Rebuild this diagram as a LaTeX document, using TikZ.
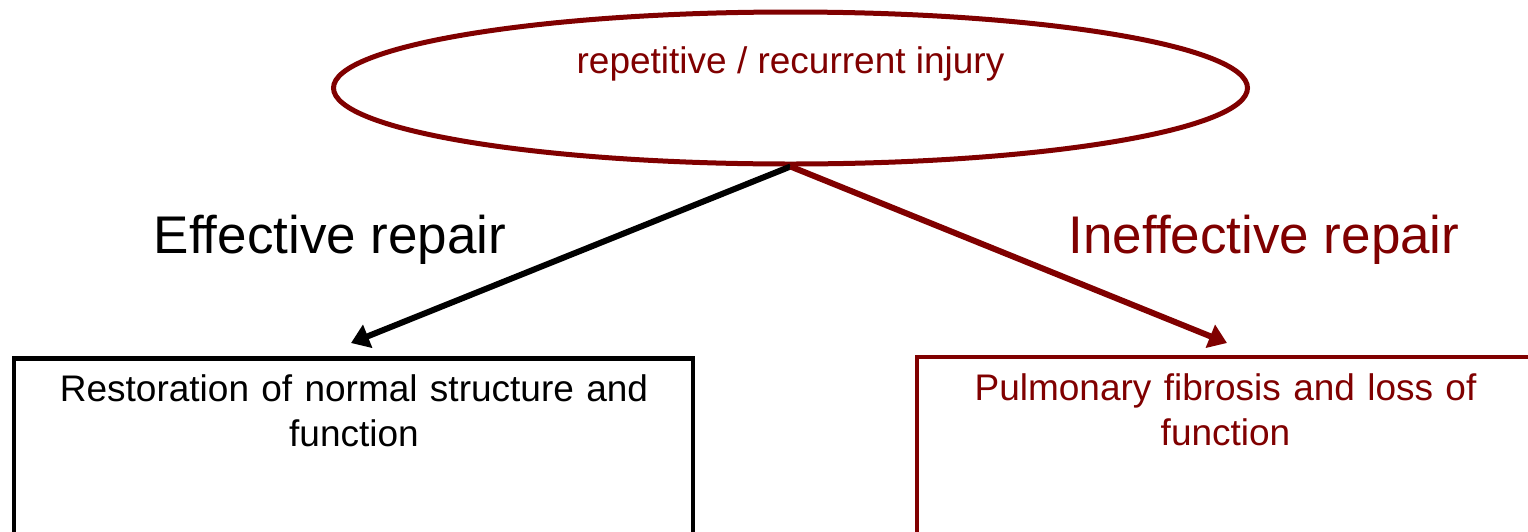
\documentclass[tikz,border=0pt]{standalone}
\usepackage{fontspec}
\setmainfont{Liberation Sans}
\usetikzlibrary{shapes.geometric,arrows.meta}
\definecolor{dred}{RGB}{128,0,0}
\begin{document}
\begin{tikzpicture}[x=1pt,y=-1pt,
  bigtext/.style={font=\fontsize{53}{60}\selectfont, inner sep=0pt},
  boxtext/.style={font=\fontsize{37}{45}\selectfont, align=center, inner sep=0pt},
  outcome/.style={draw, rectangle, minimum height=300pt, anchor=north, inner sep=0pt},
  conn/.style={line width=6pt, -{Triangle[length=18pt,width=24pt]}}
]
\clip (0,0) rectangle (1528,531);
\fill[white] (0,0) rectangle (1528,531);
\node[ellipse, draw=dred, line width=5pt, minimum width=914pt, minimum height=152pt, inner sep=0pt] (inj) at (790.5,88) {};
\node[boxtext, text=dred] (injtext) at (790.5,64) {repetitive / recurrent injury};
\node[outcome, line width=4.5pt, minimum width=679pt] (left) at (353.5,356) {};
\node[outcome, draw=dred, line width=3.5pt, minimum width=617pt] (right) at (1225.5,355) {};
\node[boxtext, text width=640pt] (lt) at (354,411) {Restoration of normal structure and\\function};
\node[boxtext, text width=600pt, text=dred] (rt) at (1225.5,410) {Pulmonary fibrosis and loss of\\function};
\node[bigtext] (eff) at (330,240) {Effective repair};
\node[bigtext, text=dred] (ineff) at (1264,240) {Ineffective repair};
\coordinate (ltip) at (351,343);
\coordinate (rtip) at (1227,343);
\draw[conn, black] (inj.south) -- (ltip);
\draw[conn, dred] (inj.south) -- (rtip);
\end{tikzpicture}
\end{document}
